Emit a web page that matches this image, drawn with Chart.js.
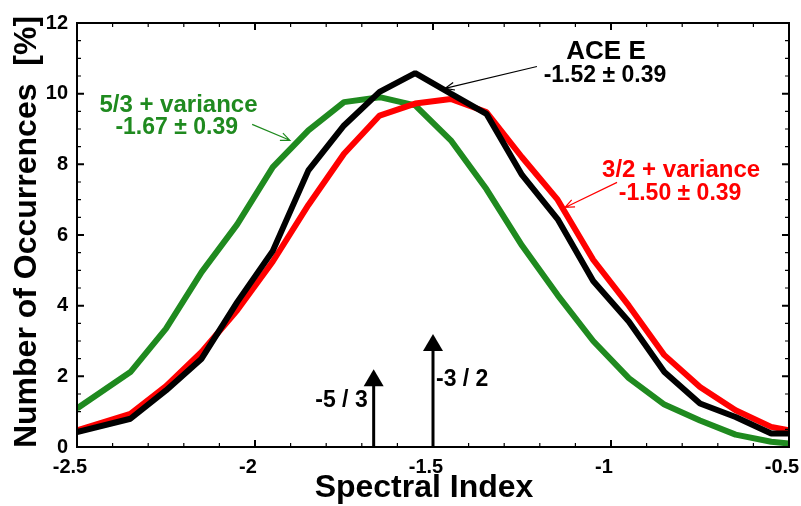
<!DOCTYPE html>
<html>
<head>
<meta charset="utf-8">
<script src="https://cdn.jsdelivr.net/npm/chart.js@4"></script>
<style>
  html, body { margin: 0; padding: 0; background: #fff; }
</style>
</head>
<body>
<canvas id="spectrum" width="801" height="506"></canvas>
<script>
// bin centres of the spectral index histogram (first / last points sit on the plot edges)
const binX = [-2.5, -2.35, -2.25, -2.15, -2.05, -1.95, -1.85, -1.75, -1.65, -1.55, -1.45,
              -1.35, -1.25, -1.15, -1.05, -0.95, -0.85, -0.75, -0.65, -0.55, -0.5];

// percent of occurrences
const aceE     = [0.42, 0.80, 1.60, 2.50, 4.10, 5.55, 7.83, 9.10, 10.05, 10.58, 10.00,
                  9.43, 7.70, 6.45, 4.70, 3.55, 2.12, 1.23, 0.85, 0.38, 0.38];
const threeTwo = [0.47, 0.94, 1.72, 2.69, 3.87, 5.25, 6.85, 8.30, 9.38, 9.72, 9.85,
                  9.48, 8.20, 7.00, 5.30, 4.00, 2.60, 1.70, 1.04, 0.57, 0.47];
const fiveThree = [1.09, 2.12, 3.35, 4.95, 6.30, 7.92, 8.96, 9.76, 9.90, 9.67, 8.68,
                   7.30, 5.70, 4.30, 3.00, 1.95, 1.20, 0.75, 0.35, 0.15, 0.10];

const xTicks = [-2.5, -2, -1.5, -1, -0.5];
const xTickLabels = ["-2.5", "-2", "-1.5", "-1", "-0.5"];
const yTicks = [0, 2, 4, 6, 8, 10, 12];
const yTickLabels = ["0", "2", "4", "6", "8", "10", "12"];

// reference slopes marked with arrows
const slopeX = [-5 / 3, -1.5];
const slopeTop = [2.2, 3.2];
const slopeLabels = ["-5 / 3", "-3 / 2"];

const GREEN = '#1f8a1f';
const RED = '#ff0000';
const FONT = '"Liberation Sans", Arial, Helvetica, sans-serif';

// text notes, placed in data coordinates
const notes = [
    { text: 'ACE E', x: -1.014, y: 10.99, size: 26, color: '#000' },
    { text: '-1.52 ± 0.39', x: -1.017, y: 10.32, size: 23, color: '#000' },
    { text: '5/3 + variance', x: -2.215, y: 9.48, size: 24, color: GREEN },
    { text: '-1.67 ± 0.39', x: -2.22, y: 8.87, size: 23, color: GREEN },
    { text: '3/2 + variance', x: -0.803, y: 7.63, size: 24, color: RED },
    { text: '-1.50 ± 0.39', x: -0.806, y: 7.0, size: 23, color: RED }
];
// thin pointer arrows from the notes to the curves
const pointers = [
    { from: [-1.208, 10.77], to: [-1.466, 10.15], color: '#000' },
    { from: [-2.008, 9.13], to: [-1.902, 8.68], color: GREEN },
    { from: [-0.983, 7.49], to: [-1.129, 6.78], color: RED }
];

function pts(values) {
    return binX.map((x, i) => ({ x: x, y: values[i] }));
}

function openArrow(ctx, x1, y1, x2, y2, color) {
    const ang = Math.atan2(y2 - y1, x2 - x1);
    const head = 10;
    ctx.strokeStyle = color;
    ctx.lineWidth = 1.2;
    ctx.beginPath();
    ctx.moveTo(x1, y1);
    ctx.lineTo(x2, y2);
    ctx.moveTo(x2 - head * Math.cos(ang - 0.4), y2 - head * Math.sin(ang - 0.4));
    ctx.lineTo(x2, y2);
    ctx.lineTo(x2 - head * Math.cos(ang + 0.4), y2 - head * Math.sin(ang + 0.4));
    ctx.stroke();
}

const decorations = {
    id: 'decorations',
    afterDatasetsDraw(chart) {
        const ctx = chart.ctx;
        const xs = chart.scales.x, ys = chart.scales.y;
        ctx.save();

        // slope arrows
        slopeX.forEach((v, i) => {
            const px = xs.getPixelForValue(v);
            const tip = ys.getPixelForValue(slopeTop[i]);
            const base = ys.getPixelForValue(0);
            ctx.strokeStyle = '#000';
            ctx.lineWidth = 3;
            ctx.beginPath();
            ctx.moveTo(px, base);
            ctx.lineTo(px, tip + 15);
            ctx.stroke();
            ctx.fillStyle = '#000';
            ctx.beginPath();
            ctx.moveTo(px, tip);
            ctx.lineTo(px - 10, tip + 17);
            ctx.lineTo(px + 10, tip + 17);
            ctx.closePath();
            ctx.fill();
        });
        ctx.font = 'bold 23px ' + FONT;
        ctx.textBaseline = 'alphabetic';
        ctx.textAlign = 'right';
        ctx.fillText(slopeLabels[0], xs.getPixelForValue(slopeX[0]) - 6, ys.getPixelForValue(1.12));
        ctx.textAlign = 'left';
        ctx.fillText(slopeLabels[1], xs.getPixelForValue(slopeX[1]) + 3, ys.getPixelForValue(1.74));

        // notes and pointers
        ctx.textAlign = 'center';
        notes.forEach(n => {
            ctx.font = 'bold ' + n.size + 'px ' + FONT;
            ctx.fillStyle = n.color;
            ctx.fillText(n.text, xs.getPixelForValue(n.x), ys.getPixelForValue(n.y));
        });
        pointers.forEach(p => {
            openArrow(ctx,
                xs.getPixelForValue(p.from[0]), ys.getPixelForValue(p.from[1]),
                xs.getPixelForValue(p.to[0]), ys.getPixelForValue(p.to[1]), p.color);
        });
        ctx.restore();
    },
    afterDraw(chart) {
        const ctx = chart.ctx;
        const a = chart.chartArea;
        const xs = chart.scales.x, ys = chart.scales.y;
        ctx.save();
        ctx.strokeStyle = '#000';

        // frame
        ctx.lineWidth = 2;
        ctx.strokeRect(a.left, a.top, a.right - a.left, a.bottom - a.top);

        // inward ticks on all four sides
        for (let i = 0; i <= 20; i++) {
            const px = xs.getPixelForValue(-2.5 + i * 0.1);
            const major = i % 5 === 0;
            const len = major ? 7 : 4;
            ctx.lineWidth = major ? 2 : 1.2;
            ctx.beginPath();
            ctx.moveTo(px, a.bottom); ctx.lineTo(px, a.bottom - len);
            ctx.moveTo(px, a.top); ctx.lineTo(px, a.top + len);
            ctx.stroke();
        }
        for (let i = 0; i <= 24; i++) {
            const py = ys.getPixelForValue(i * 0.5);
            const major = i % 4 === 0;
            const len = major ? 7 : 4;
            ctx.lineWidth = major ? 2 : 1.2;
            ctx.beginPath();
            ctx.moveTo(a.left, py); ctx.lineTo(a.left + len, py);
            ctx.moveTo(a.right, py); ctx.lineTo(a.right - len, py);
            ctx.stroke();
        }

        // tick labels
        ctx.fillStyle = '#000';
        ctx.font = 'bold 20px ' + FONT;
        ctx.textAlign = 'center';
        ctx.textBaseline = 'alphabetic';
        xTicks.forEach((v, i) => {
            ctx.fillText(xTickLabels[i], xs.getPixelForValue(v) - 7, a.bottom + 26);
        });
        ctx.textAlign = 'right';
        ctx.textBaseline = 'middle';
        yTicks.forEach((v, i) => {
            ctx.fillText(yTickLabels[i], a.left - 9, ys.getPixelForValue(v));
        });

        // axis titles
        ctx.font = 'bold 32px ' + FONT;
        ctx.textAlign = 'center';
        ctx.textBaseline = 'alphabetic';
        ctx.fillText('Spectral Index', (a.left + a.right) / 2 - 9, a.bottom + 50);
        ctx.translate(36, (a.top + a.bottom) / 2 - 3);
        ctx.rotate(-Math.PI / 2);
        ctx.fillText('Number of Occurrences  [%]', 0, 0);
        ctx.restore();
    }
};

const ctx = document.getElementById('spectrum').getContext('2d');
const chart = new Chart(ctx, {
    type: 'line',
    data: {
        datasets: [
            { label: 'ACE E', data: pts(aceE), borderColor: '#000', order: 0 },
            { label: '3/2 + variance', data: pts(threeTwo), borderColor: RED, order: 1 },
            { label: '5/3 + variance', data: pts(fiveThree), borderColor: GREEN, order: 2 }
        ]
    },
    options: {
        responsive: false,
        animation: false,
        devicePixelRatio: 1,
        layout: { padding: { left: 77, right: 12, top: 23, bottom: 59 } },
        elements: {
            line: { borderWidth: 6, tension: 0, borderJoinStyle: 'bevel', fill: false },
            point: { radius: 0, hoverRadius: 0 }
        },
        scales: {
            x: { type: 'linear', min: -2.5, max: -0.5, display: false },
            y: { type: 'linear', min: 0, max: 12, display: false }
        },
        plugins: {
            legend: { display: false },
            tooltip: { enabled: false }
        },
        events: []
    },
    plugins: [decorations]
});
</script>
</body>
</html>
